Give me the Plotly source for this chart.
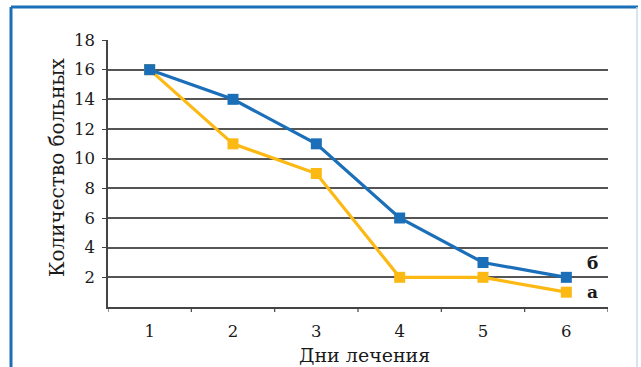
import plotly.graph_objects as go

days = [1, 2, 3, 4, 5, 6]
series_b = [16, 14, 11, 6, 3, 2]   # б
series_a = [16, 11, 9, 2, 2, 1]    # а
y_ticks = [2, 4, 6, 8, 10, 12, 14, 16, 18]
x_title = "Дни лечения"
y_title = "Количество больных"

BLUE = "#1a6fb8"
YELLOW = "#fdb913"
FONT = "DejaVu Serif"

fig = go.Figure()
fig.add_trace(go.Scatter(x=days, y=series_a, mode="lines+markers",
                         line=dict(color=YELLOW, width=3.2),
                         marker=dict(symbol="square", size=11, color=YELLOW),
                         showlegend=False))
fig.add_trace(go.Scatter(x=days, y=series_b, mode="lines+markers",
                         line=dict(color=BLUE, width=3.2),
                         marker=dict(symbol="square", size=11, color=BLUE),
                         showlegend=False))

fig.add_annotation(x=days[-1], y=series_b[-1], text="<b>б</b>", showarrow=False,
                   xshift=26, yshift=14, font=dict(family=FONT, size=17, color="#1a1a1a"))
fig.add_annotation(x=days[-1], y=series_a[-1], text="<b>а</b>", showarrow=False,
                   xshift=26, yshift=0, font=dict(family=FONT, size=17, color="#1a1a1a"))

# frame
W, H = 641, 367
l, r, t, b = 108, 33, 40, 60
pw, ph = W - l - r, H - t - b
def px(x): return (x - l) / pw
def py(y): return (H - b - y) / ph
fig.add_shape(type="line", xref="paper", yref="paper", x0=px(11), x1=px(638), y0=py(7), y1=py(7),
              line=dict(color=BLUE, width=3))
fig.add_shape(type="line", xref="paper", yref="paper", x0=px(11), x1=px(11), y0=py(7), y1=py(380),
              line=dict(color=BLUE, width=3))
fig.add_shape(type="line", xref="paper", yref="paper", x0=px(637), x1=px(637), y0=py(7), y1=py(380),
              line=dict(color="#c6dcef", width=1.5))

# axis titles
fig.add_annotation(xref="paper", yref="paper", x=px(364), y=py(355), text=x_title, showarrow=False,
                   xanchor="center", yanchor="middle",
                   font=dict(family=FONT, size=19, color="#1a1a1a"))
fig.add_annotation(xref="paper", yref="paper", x=px(57), y=py(168), text=y_title, showarrow=False,
                   xanchor="center", yanchor="middle",
                   textangle=-90, font=dict(family=FONT, size=20, color="#1a1a1a"))

fig.update_layout(
    width=W, height=H,
    margin=dict(l=l, r=r, t=t, b=b, autoexpand=False),
    paper_bgcolor="white", plot_bgcolor="white",
    font=dict(family=FONT, size=16.5, color="#1a1a1a"),
    xaxis=dict(range=[0.5, 6.5], tickmode="array", tickvals=days, automargin=False,
               showgrid=False, zeroline=False, showline=True, linecolor="#444", linewidth=1.5,
               ticks="", ticklabelstandoff=8),
    yaxis=dict(range=[0, 18], tickmode="array", tickvals=y_ticks, automargin=False,
               showgrid=True, gridcolor="#555", gridwidth=1.5, zeroline=False,
               showline=True, linecolor="#444", linewidth=1.5,
               ticks="outside", ticklen=4, tickcolor="#444", tickwidth=1.2,
               ticklabelstandoff=4),
)

# x tick marks at category boundaries
for xb in [0.5, 1.5, 2.5, 3.5, 4.5, 5.5, 6.5]:
    fig.add_shape(type="line", xref="x", yref="paper", x0=xb, x1=xb, y0=0, y1=-5 / ph,
                  line=dict(color="#444", width=1.2))

fig.write_html("out.html", config={"displayModeBar": False},
               post_script="document.body.style.margin='0';document.body.style.padding='0';")
